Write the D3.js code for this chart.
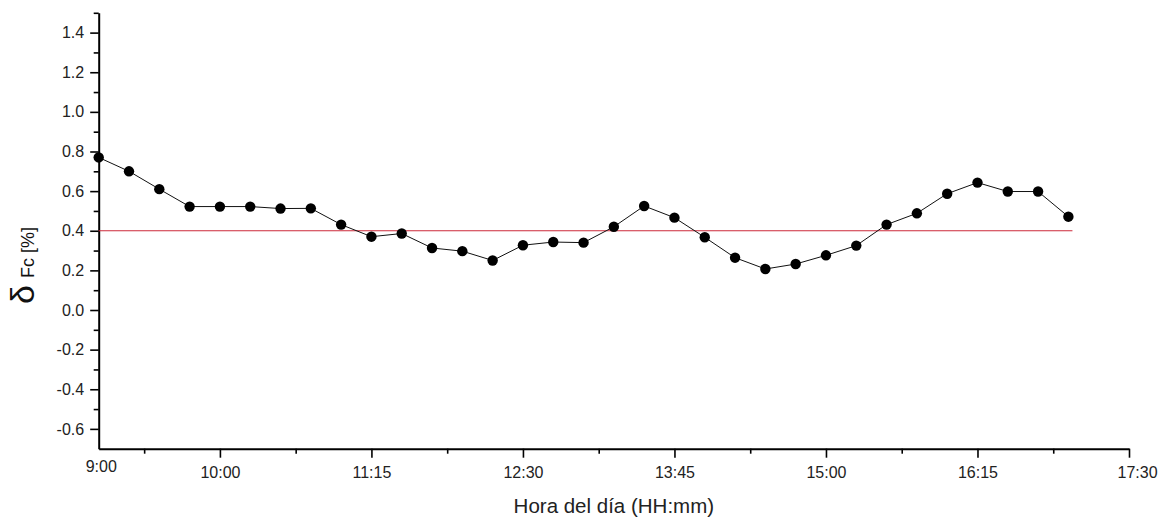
<!DOCTYPE html>
<html>
<head>
<meta charset="utf-8">
<script src="https://cdn.jsdelivr.net/npm/d3@7"></script>
<style>
  html, body { margin: 0; padding: 0; background: #fff; }
  svg { display: block; font-family: "Liberation Sans", Arial, sans-serif; }
</style>
</head>
<body>
<svg id="chart" width="1166" height="518"></svg>
<script>
// ---- data ----
const times = ["9:00","9:15","9:30","9:45","10:00","10:15","10:30","10:45",
  "11:00","11:15","11:30","11:45","12:00","12:15","12:30","12:45",
  "13:00","13:15","13:30","13:45","14:00","14:15","14:30","14:45",
  "15:00","15:15","15:30","15:45","16:00","16:15","16:30","16:45","17:00"];
const values = [0.770,0.700,0.610,0.522,0.522,0.522,0.512,0.513,
  0.431,0.370,0.386,0.313,0.297,0.250,0.327,0.343,
  0.340,0.420,0.525,0.466,0.367,0.264,0.207,0.232,
  0.276,0.325,0.431,0.488,0.587,0.643,0.598,0.598,0.471];
const refValue = 0.4;
const refRange = ["9:00","17:02"];
const xDomain = ["9:00","17:30"];
const xMajorTicks = ["9:00","10:00","11:15","12:30","13:45","15:00","16:15","17:30"];
const xMinorTicks = ["9:22:30","10:37:30","11:52:30","13:07:30","14:22:30","15:37:30","16:52:30"];
const yDomain = [-0.7, 1.5];
const yMajorTicks = [-0.6,-0.4,-0.2,0.0,0.2,0.4,0.6,0.8,1.0,1.2,1.4];
const yMinorTicks = [-0.5,-0.3,-0.1,0.1,0.3,0.5,0.7,0.9,1.1,1.3,1.5];
const xTitle = "Hora del día (HH:mm)";

(function () {
function toMin(s) {
  const p = s.split(":").map(Number);
  return p[0]*60 + p[1] + (p[2] ? p[2]/60 : 0);
}

const svg = d3.select("#chart");
const mLeft = 98.7, mRight = 1129, mTop = 12.8, mBottom = 448.7;

const x = d3.scaleLinear().domain(xDomain.map(toMin)).range([mLeft, mRight]);
const y = d3.scaleLinear().domain(yDomain).range([mBottom, mTop]);

// minor ticks x
svg.append("g").attr("transform", `translate(0,${mBottom})`)
  .call(d3.axisBottom(x).tickValues(xMinorTicks.map(toMin)).tickSize(5).tickSizeOuter(0).tickFormat(""))
  .call(g => g.select(".domain").remove())
  .call(g => g.selectAll("line").attr("stroke", "#000").attr("stroke-width", 1.6));

// major ticks x
const xAxis = svg.append("g").attr("transform", `translate(0,${mBottom})`)
  .call(d3.axisBottom(x).tickValues(xMajorTicks.map(toMin)).tickSize(9).tickSizeOuter(0).tickPadding(9)
    .tickFormat((d, i) => xMajorTicks[i]));
xAxis.select(".domain").attr("stroke", "#000").attr("stroke-width", 2);
xAxis.selectAll("line").attr("stroke", "#000").attr("stroke-width", 1.6);
xAxis.selectAll("text").attr("font-size", 16).attr("fill", "#222")
  .attr("font-family", "'Liberation Sans', Arial, sans-serif");
xAxis.selectAll(".tick").filter((d, i) => i === 0).select("line").remove();
xAxis.selectAll(".tick").filter((d, i) => i === 0).select("text").attr("y", 12).attr("dx", 2);
xAxis.selectAll(".tick").filter((d, i) => i === xMajorTicks.length - 1).select("text").attr("dx", 8);

// minor ticks y
svg.append("g").attr("transform", `translate(${mLeft},0)`)
  .call(d3.axisLeft(y).tickValues(yMinorTicks).tickSize(5).tickSizeOuter(0).tickFormat(""))
  .call(g => g.select(".domain").remove())
  .call(g => g.selectAll("line").attr("stroke", "#000").attr("stroke-width", 1.6));

// major ticks y
const fmt = d3.format(".1f");
const yAxis = svg.append("g").attr("transform", `translate(${mLeft},0)`)
  .call(d3.axisLeft(y).tickValues(yMajorTicks).tickSize(8.5).tickSizeOuter(0).tickPadding(6)
    .tickFormat(d => fmt(d).replace("\u2212", "-")));
yAxis.select(".domain").attr("stroke", "#000").attr("stroke-width", 2);
yAxis.selectAll("line").attr("stroke", "#000").attr("stroke-width", 1.6);
yAxis.selectAll("text").attr("font-size", 16).attr("fill", "#222")
  .attr("font-family", "'Liberation Sans', Arial, sans-serif");

// reference line
svg.append("line")
  .attr("x1", x(toMin(refRange[0]))).attr("x2", x(toMin(refRange[1])))
  .attr("y1", y(refValue)).attr("y2", y(refValue))
  .attr("stroke", "#cc2a3a").attr("stroke-width", 1.2);

// data line
const pts = times.map((t, i) => ({ t: toMin(t), v: values[i] }));
svg.append("path").datum(pts)
  .attr("fill", "none").attr("stroke", "#111").attr("stroke-width", 1)
  .attr("d", d3.line().x(d => x(d.t)).y(d => y(d.v)));

svg.append("g").selectAll("circle").data(pts).join("circle")
  .attr("cx", d => x(d.t)).attr("cy", d => y(d.v)).attr("r", 5.2).attr("fill", "#000");

// axis titles
svg.append("text")
  .attr("x", (mLeft + mRight) / 2).attr("y", 512.7)
  .attr("text-anchor", "middle").attr("font-size", 20.5).attr("fill", "#222")
  .text(xTitle);

const yt = svg.append("text")
  .attr("transform", "translate(34,304) rotate(-90)")
  .attr("text-anchor", "start").attr("fill", "#111");
yt.append("tspan").attr("font-size", 34).text("δ");
yt.append("tspan").attr("font-size", 18).attr("dx", 7).text("Fc [%]");
})();
</script>
</body>
</html>
